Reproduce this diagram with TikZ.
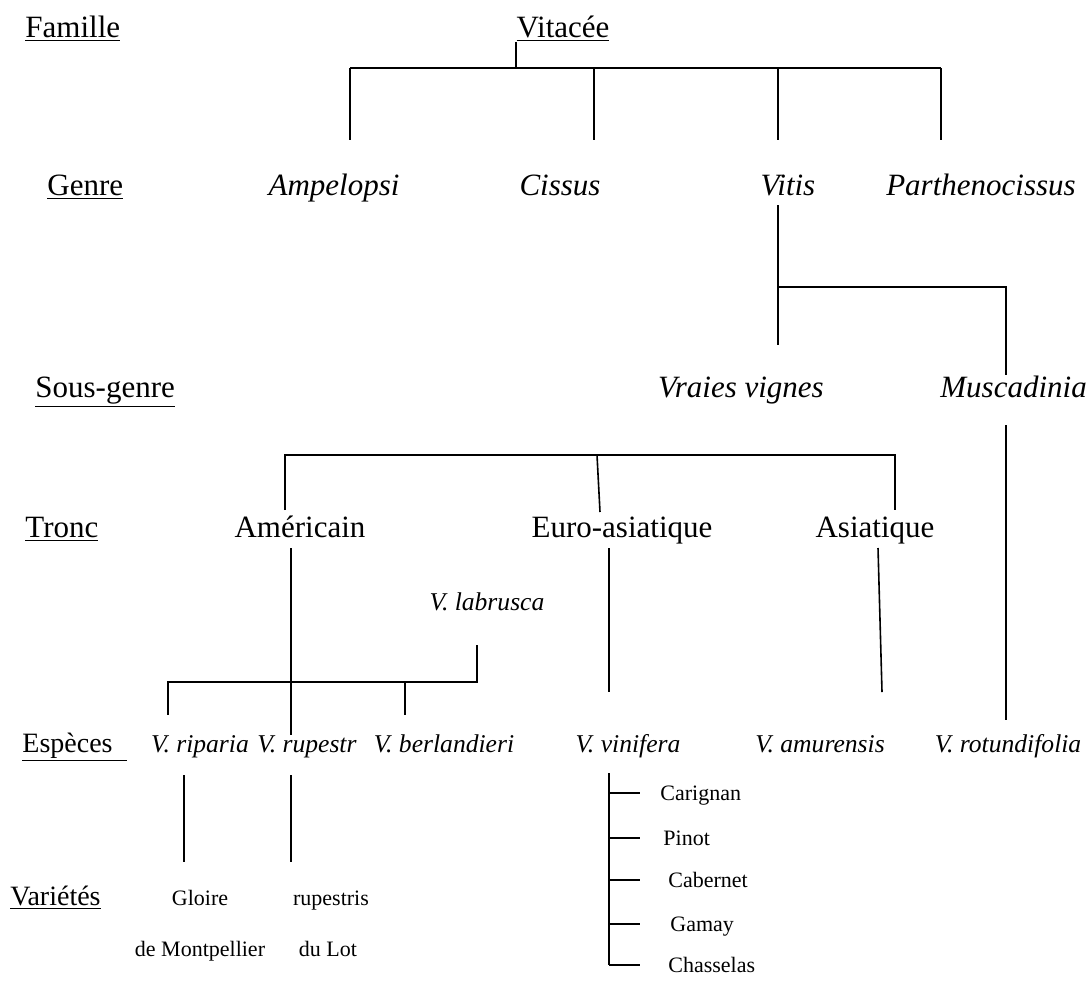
\documentclass[tikz,border=0pt]{standalone}
\usepackage{fontspec}
\setmainfont{Liberation Serif}

\tikzset{
    rang/.style={inner sep=0pt, anchor=base west, font=\fontsize{15.5}{18}\selectfont},
    petitrang/.style={inner sep=0pt, anchor=base west, font=\fontsize{14}{16}\selectfont},
    taxon/.style={inner sep=0pt, anchor=base, font=\fontsize{15.5}{18}\selectfont},
    genre/.style={taxon, font=\fontsize{15.5}{18}\selectfont\itshape},
    espece/.style={inner sep=0pt, anchor=base, font=\fontsize{12.8}{15}\selectfont\itshape},
    cepage/.style={inner sep=0pt, anchor=base, font=\fontsize{11}{13}\selectfont},
    tige/.style={line width=0.8pt},
}

\begin{document}
\begin{tikzpicture}[x=0.5pt, y=-0.5pt]
    \useasboundingbox (0,0) rectangle (1090,991);

    % rangs
    \node[rang] (famille) at (25,37) {\underline{Famille}};
    \node[rang] (genrerang) at (47,195) {\underline{Genre}};
    \node[rang] (sousgenre) at (35,397) {\underline{Sous-genre}};
    \node[rang] (tronc) at (25,537) {\underline{Tronc}};
    \node[petitrang] (especes) at (22,752) {\underline{Espèces\ \ }};
    \node[petitrang] (varietes) at (10,905) {\underline{Variétés}};

    % famille et genres
    \node[taxon] (vitacee) at (563,37) {\underline{Vitacée}};
    \node[genre] (ampelopsi) at (334,195) {Ampelopsi};
    \node[genre] (cissus) at (560,195) {Cissus};
    \node[genre] (vitis) at (788,195) {Vitis};
    \node[genre] (parth) at (981,195) {Parthenocissus};

    \coordinate (bg) at (350,68);
    \coordinate (bd) at (941,68);
    \draw[tige] (vitacee.south west) -- (vitacee.south west |- bg);
    \draw[tige] (bg) -- (bd);
    \foreach \x in {350,594,778,941} {
        \draw[tige] (\x,68) -- (\x,140);
    }

    % sous-genres
    \node[genre] (vraies) at (741,397) {Vraies vignes};
    \node[genre, anchor=base west] (musca) at (940,397) {Muscadinia};

    \coordinate (vh) at (778,205);
    \coordinate (vv) at (778,345);
    \coordinate (vm) at (1006,375);
    \draw[tige] (vh) -- (vv);
    \draw[tige] (778,287) -| (vm);

    % troncs
    \node[taxon] (americain) at (300,537) {Américain};
    \node[taxon] (euro) at (622,537) {Euro-asiatique};
    \node[taxon] (asiatique) at (875,537) {Asiatique};

    \draw[tige] (285,510) |- (895,455) -- (895,510);
    \draw[tige] (597,455) -- (600,512);

    % especes
    \node[espece] (labrusca) at (487,610) {V. labrusca};
    \node[espece] (riparia) at (200,752) {V. riparia};
    \node[espece] (rupestr) at (307,752) {V. rupestr};
    \node[espece] (berland) at (444,752) {V. berlandieri};
    \node[espece] (vinifera) at (628,752) {V. vinifera};
    \node[espece] (amurensis) at (820,752) {V. amurensis};
    \node[espece] (rotund) at (1008,752) {V. rotundifolia};

    \draw[tige] (1006,425) -- (1006,720);
    \draw[tige] (291,548) -- (291,735);
    \draw[tige] (477,645) |- (168,682) -- (168,715);
    \draw[tige] (405,682) -- (405,715);
    \draw[tige] (609,548) -- (609,692);
    \draw[tige] (878,548) -- (882,692);

    % varietes
    \node[cepage] (gloire) at (200,905) {Gloire};
    \node[cepage] (montp) at (200,956) {de Montpellier};
    \node[cepage] (rupestris) at (331,905) {rupestris};
    \node[cepage] (lot) at (328,956) {du Lot};

    \draw[tige] (184,775) -- (184,862);
    \draw[tige] (291,775) -- (291,862);

    % cepages de V. vinifera
    \draw[tige] (609,773) -- (609,965);
    \foreach \c/\y/\x in {Carignan/793/660, Pinot/838/663, Cabernet/880/668, Gamay/924/670, Chasselas/965/668} {
        \node[cepage, anchor=base west] (\c) at (\x,\y+7) {\c};
        \draw[tige] (609,\y) -- (640,\y);
    }
\end{tikzpicture}
\end{document}
